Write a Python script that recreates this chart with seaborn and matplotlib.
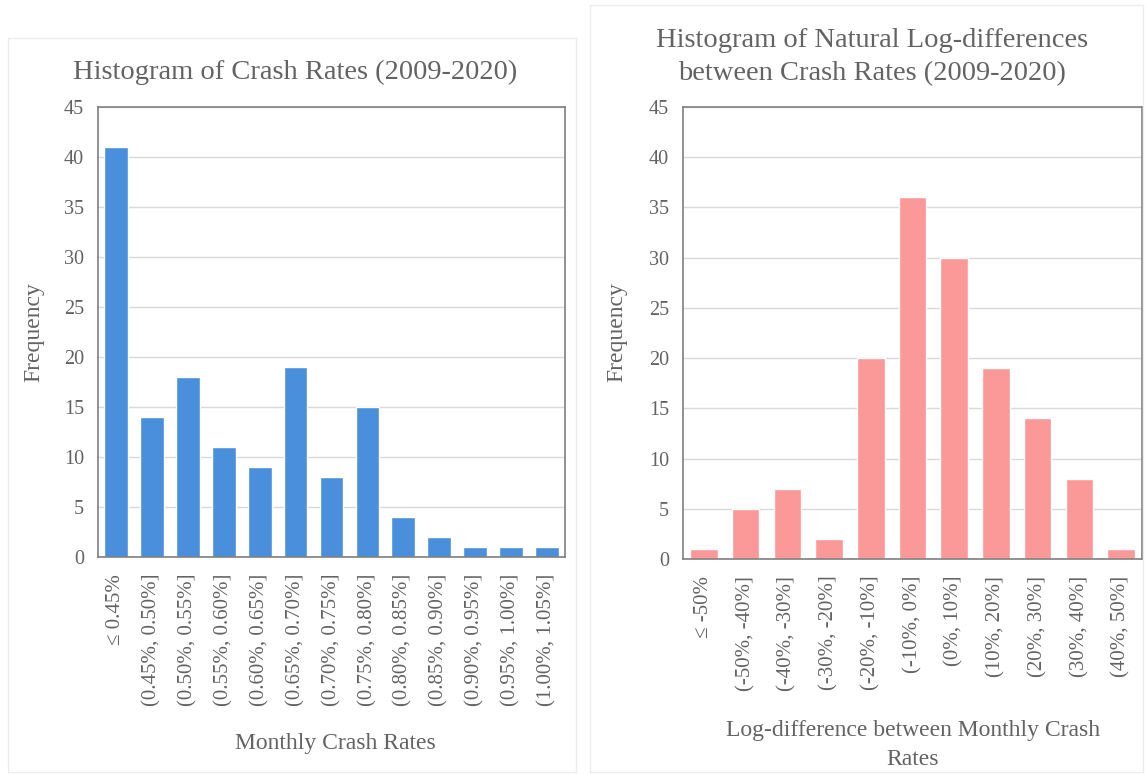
import matplotlib
matplotlib.use("Agg")
import matplotlib.pyplot as plt
import seaborn as sns
import pandas as pd
from matplotlib.patches import Rectangle

left_cats = ["≤ 0.45%", "(0.45%, 0.50%]", "(0.50%, 0.55%]", "(0.55%, 0.60%]", "(0.60%, 0.65%]",
             "(0.65%, 0.70%]", "(0.70%, 0.75%]", "(0.75%, 0.80%]", "(0.80%, 0.85%]",
             "(0.85%, 0.90%]", "(0.90%, 0.95%]", "(0.95%, 1.00%]", "(1.00%, 1.05%]"]
left_vals = [41, 14, 18, 11, 9, 19, 8, 15, 4, 2, 1, 1, 1]

right_cats = ["≤ -50%", "(-50%, -40%]", "(-40%, -30%]", "(-30%, -20%]", "(-20%, -10%]",
              "(-10%, 0%]", "(0%, 10%]", "(10%, 20%]", "(20%, 30%]", "(30%, 40%]", "(40%, 50%]"]
right_vals = [1, 5, 7, 2, 20, 36, 30, 19, 14, 8, 1]

sns.set_theme(style="white")
plt.rcParams['font.family'] = ['Liberation Serif', 'DejaVu Serif']
txt = "#636363"
W, H = 1145, 774

fig = plt.figure(figsize=(11.45, 7.74), dpi=100)

# faint panel frames
fig.patches.append(Rectangle((8/W, 1-772/H), 568/W, 734/H, transform=fig.transFigure,
                             fill=False, edgecolor="#ececec", lw=1))
fig.patches.append(Rectangle((590/W, 1-772/H), 553/W, 767/H, transform=fig.transFigure,
                             fill=False, edgecolor="#ececec", lw=1))

ax1 = fig.add_axes([98/W, 1-557/H, 467/W, 450/H])
ax2 = fig.add_axes([683/W, 1-559/H, 459/W, 452/H])

def draw(ax, cats, vals, color):
    df = pd.DataFrame({"cat": cats, "val": vals})
    sns.barplot(data=df, x="cat", y="val", color=color, saturation=1, width=0.66, ax=ax, zorder=2)
    ax.set_ylim(0, 45)
    ax.set_yticks(range(0, 46, 5))
    ax.yaxis.grid(True, color="#d9d9d9", lw=1, zorder=0)
    ax.set_axisbelow(True)
    for s in ax.spines.values():
        s.set_visible(True)
        s.set_color("#7f7f7f")
        s.set_linewidth(1.2)
    ax.tick_params(axis="x", labelrotation=90, labelsize=15, colors=txt, length=0, pad=12)
    ax.tick_params(axis="y", labelsize=14.5, colors=txt, length=0, pad=10)
    ax.set_ylabel("")
    ax.set_xlabel("")

draw(ax1, left_cats, left_vals, "#4a8fdb")
draw(ax2, right_cats, right_vals, "#fb9898")

fig.text(295/W, 1-72/H, "Histogram of Crash Rates (2009-2020)", fontsize=20.5, color=txt,
         ha="center", va="center")
fig.text(872/W, 1-57/H, "Histogram of Natural Log-differences\nbetween Crash Rates (2009-2020)",
         fontsize=20.5, color=txt, ha="center", va="center", linespacing=1.45)
fig.text(34/W, 1-332/H, "Frequency", fontsize=17, color=txt, rotation=90, ha="center", va="center")
fig.text(617/W, 1-332/H, "Frequency", fontsize=17, color=txt, rotation=90, ha="center", va="center")
fig.text(335/W, 1-744/H, "Monthly Crash Rates", fontsize=17, color=txt, ha="center", va="center")
fig.text(913/W, 1-745/H, "Log-difference between Monthly Crash\nRates", fontsize=17, color=txt,
         ha="center", va="center", linespacing=1.5)

fig.savefig("out.png", dpi=100)
